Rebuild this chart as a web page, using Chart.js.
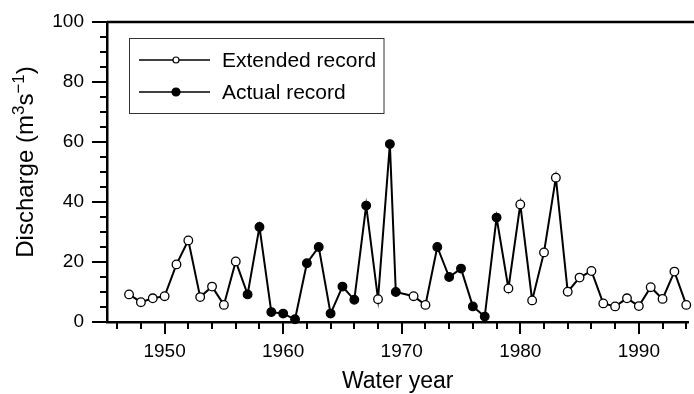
<!DOCTYPE html>
<html>
<head>
<meta charset="utf-8">
<script src="https://cdn.jsdelivr.net/npm/chart.js@4.4.1/dist/chart.umd.min.js"></script>
<style>
  html, body { margin: 0; padding: 0; background: #fff; }
  #wrap { width: 694px; height: 394px; }
</style>
</head>
<body>
<div id="wrap"><canvas id="dischargeChart" width="694" height="394"></canvas></div>
<script>
// water years (one point sits half a year early in the source figure)
const years = [1947, 1948, 1949, 1950, 1951, 1952, 1953, 1954, 1955, 1956,
    1957, 1958, 1959, 1960, 1961, 1962, 1963, 1964, 1965, 1966, 1967, 1968, 1969, 1969.5,
    1971, 1972, 1973, 1974, 1975, 1976, 1977, 1978, 1979, 1980, 1981, 1982, 1983,
    1984, 1985, 1986, 1987, 1988, 1989, 1990, 1991, 1992, 1993, 1994];
const discharge = [9.2, 6.6, 7.9, 8.6, 19.2, 27.2, 8.3, 11.8, 5.7, 20.2,
    9.2, 31.7, 3.3, 2.8, 0.9, 19.6, 25.0, 2.8, 11.8, 7.4, 38.8, 7.6, 59.3, 10.0,
    8.6, 5.7, 25.0, 15.0, 17.8, 5.2, 1.8, 34.8, 11.2, 39.2, 7.2, 23.2, 48.1,
    10.1, 14.8, 17.0, 6.2, 5.2, 7.9, 5.3, 11.6, 7.7, 16.8, 5.7];
// E = extended record, A = actual record
const recordType = ['E', 'E', 'E', 'E', 'E', 'E', 'E', 'E', 'E', 'E',
    'A', 'A', 'A', 'A', 'A', 'A', 'A', 'A', 'A', 'A', 'A', 'E', 'A', 'A',
    'E', 'E', 'A', 'A', 'A', 'A', 'A', 'A', 'E', 'E', 'E', 'E', 'E',
    'E', 'E', 'E', 'E', 'E', 'E', 'E', 'E', 'E', 'E', 'E'];
const xTickYears = [1946, 1948, 1950, 1952, 1954, 1956, 1958, 1960, 1962, 1964, 1966, 1968,
    1970, 1972, 1974, 1976, 1978, 1980, 1982, 1984, 1986, 1988, 1990, 1992, 1994];
const legendLabels = ['Extended record', 'Actual record'];
// y title pieces: [text, superscript?]
const yTitleParts = [['Discharge (m', false], ['3', true], ['s', false], ['\u22121', true], [')', false]];

const FONT = "'Liberation Sans', Arial, Helvetica, sans-serif";

const points = years.map((y, i) => ({ x: y, y: discharge[i] }));

// ticks of two lengths, the top frame line, y title and the boxed legend
const framePlugin = {
    id: 'frame',
    afterDraw(chart) {
        const ctx = chart.ctx;
        const area = chart.chartArea;
        const xs = chart.scales.x;
        const ys = chart.scales.y;
        ctx.save();
        ctx.strokeStyle = '#000';
        ctx.lineWidth = 2.5;
        ctx.beginPath();
        ctx.moveTo(area.left, area.top);
        ctx.lineTo(chart.width, area.top);
        ctx.stroke();

        ctx.lineWidth = 2;
        ys.ticks.forEach(t => {
            const py = Math.round(ys.getPixelForValue(t.value));
            const len = t.value % 20 === 0 ? 15 : 7;
            ctx.beginPath();
            ctx.moveTo(area.left - len, py);
            ctx.lineTo(area.left, py);
            ctx.stroke();
        });
        xs.ticks.forEach(t => {
            const px = Math.round(xs.getPixelForValue(t.value));
            const len = t.value % 10 === 0 ? 12 : 7;
            ctx.beginPath();
            ctx.moveTo(px, area.bottom);
            ctx.lineTo(px, area.bottom + len);
            ctx.stroke();
        });

        // y axis title with real superscripts
        const size = 24, supSize = 17;
        ctx.save();
        ctx.translate(33, (area.top + area.bottom) / 2 - 10);
        ctx.rotate(-Math.PI / 2);
        ctx.fillStyle = '#000';
        ctx.textBaseline = 'alphabetic';
        ctx.textAlign = 'left';
        let total = 0;
        yTitleParts.forEach(([txt, sup]) => {
            ctx.font = (sup ? supSize : size) + 'px ' + FONT;
            total += ctx.measureText(txt).width;
        });
        let cx = -total / 2;
        yTitleParts.forEach(([txt, sup]) => {
            ctx.font = (sup ? supSize : size) + 'px ' + FONT;
            ctx.fillText(txt, cx, sup ? -9 : 0);
            cx += ctx.measureText(txt).width;
        });
        ctx.restore();

        // legend
        const bx = 129.5, by = 38.5, bw = 254.5, bh = 75;
        ctx.lineWidth = 1;
        ctx.strokeStyle = '#333';
        ctx.strokeRect(bx, by, bw, bh);
        ctx.font = '21px ' + FONT;
        ctx.textBaseline = 'middle';
        legendLabels.forEach((label, i) => {
            const ly = 60 + i * 32;
            ctx.strokeStyle = '#000';
            ctx.lineWidth = 1.5;
            ctx.beginPath();
            ctx.moveTo(139, ly);
            ctx.lineTo(210, ly);
            ctx.stroke();
            ctx.beginPath();
            ctx.arc(176, ly, i === 0 ? 3 : 4, 0, Math.PI * 2);
            ctx.fillStyle = i === 0 ? '#fff' : '#000';
            ctx.fill();
            ctx.lineWidth = 1.2;
            ctx.stroke();
            ctx.fillStyle = '#000';
            ctx.fillText(label, 222, ly + 1);
        });
        ctx.restore();
    }
};

const ctx = document.getElementById('dischargeChart').getContext('2d');
new Chart(ctx, {
    type: 'line',
    data: {
        datasets: [{
            label: 'Discharge',
            data: points,
            borderColor: '#000',
            borderWidth: 2,
            tension: 0,
            fill: false,
            clip: false,
            pointRadius: 4.3,
            pointBorderWidth: 1.3,
            pointBorderColor: '#000',
            pointBackgroundColor: recordType.map(r => r === 'A' ? '#000' : '#fff'),
        }]
    },
    plugins: [framePlugin],
    options: {
        responsive: false,
        animation: false,
        layout: { padding: { top: 22, right: 0, left: 0, bottom: 0 } },
        plugins: {
            legend: { display: false },
            tooltip: { enabled: false }
        },
        scales: {
            x: {
                type: 'linear',
                min: 1945.14,
                max: 1994.18,
                afterBuildTicks: scale => { scale.ticks = xTickYears.map(v => ({ value: v })); },
                afterFit: scale => { scale.height = 72; },
                grid: { drawOnChartArea: false, tickLength: 12, color: 'rgba(0,0,0,0)' },
                border: { display: true, color: '#000', width: 2.5 },
                ticks: {
                    autoSkip: false,
                    maxRotation: 0,
                    padding: 6,
                    color: '#000',
                    font: { family: FONT, size: 19 },
                    callback: v => (v % 10 === 0 ? String(v) : '')
                },
                title: {
                    display: true,
                    text: 'Water year',
                    color: '#000',
                    font: { family: FONT, size: 23, lineHeight: 1 },
                    padding: { top: 0, bottom: 1 }
                }
            },
            y: {
                min: 0,
                max: 100,
                afterFit: scale => { scale.width = 107; },
                grid: { drawOnChartArea: false, tickLength: 15, color: 'rgba(0,0,0,0)' },
                border: { display: true, color: '#000', width: 2.5 },
                ticks: {
                    stepSize: 5,
                    autoSkip: false,
                    padding: 8,
                    color: '#000',
                    font: { family: FONT, size: 19 },
                    callback: v => (v % 20 === 0 ? String(v) : '')
                }
            }
        }
    }
});
</script>
</body>
</html>
